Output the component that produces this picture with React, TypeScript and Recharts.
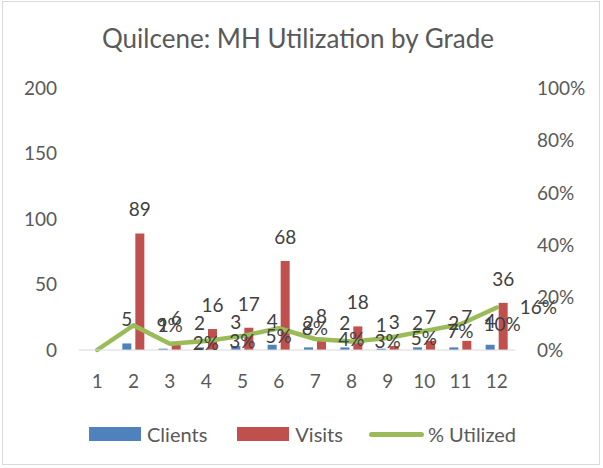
import { Bar, ComposedChart, LabelList, Legend, Line, XAxis, YAxis } from "recharts";

const grades = ["1", "2", "3", "4", "5", "6", "7", "8", "9", "10", "11", "12"];
const clients = [null, 5, 1, 2, 3, 4, 2, 2, 1, 2, 2, 4];
const visits = [null, 89, 6, 16, 17, 68, 8, 18, 3, 7, 7, 36];
const utilized = [0, 0.094, 0.024, 0.034, 0.054, 0.083, 0.042, 0.032, 0.046, 0.072, 0.098, 0.162];
const countTicks = [0, 50, 100, 150, 200];
const pctTicks = [0, 0.2, 0.4, 0.6, 0.8, 1];

const data = grades.map((g, i) => ({
  grade: g,
  clients: clients[i],
  visits: visits[i],
  utilized: utilized[i],
}));

const FONT = "Lato, 'Open Sans', sans-serif";
const AXIS_TEXT = "#595959";
const LABEL_TEXT = "#404040";
const BLUE = "#4F81BD";
const RED = "#C0504D";
const GREEN = "#9BBB59";

const tickStyle = { fontSize: 19, fill: AXIS_TEXT, fontFamily: FONT };
const labelStyle = { fontSize: 19, fill: LABEL_TEXT, fontFamily: FONT };

const pct = (v: number) => `${Math.round(v * 100)}%`;

function LegendContent() {
  const text = { fontSize: 20, color: AXIS_TEXT, fontFamily: FONT };
  return (
    <div style={{ display: "flex", alignItems: "center", paddingLeft: 89 }}>
      <span style={{ width: 52, height: 14, background: BLUE, marginRight: 6 }} />
      <span style={{ ...text, marginRight: 30 }}>Clients</span>
      <span style={{ width: 52, height: 14, background: RED, marginRight: 6 }} />
      <span style={{ ...text, marginRight: 26 }}>Visits</span>
      <span style={{ width: 55, height: 5, borderRadius: 3, background: GREEN, marginRight: 4 }} />
      <span style={text}>% Utilized</span>
    </div>
  );
}

export default function App() {
  return (
    <div style={{ position: "absolute", left: 0, top: 0, width: 603, height: 468, background: "#fff" }}>
      <div
        style={{
          position: "absolute",
          left: 2,
          top: 1,
          width: 598,
          height: 464,
          border: "1px solid #d9d9d9",
          boxSizing: "border-box",
        }}
      />
      <div
        style={{
          position: "absolute",
          left: 0,
          top: 22,
          width: 596,
          textAlign: "center",
          fontFamily: FONT,
          fontSize: 26,
          color: AXIS_TEXT,
        }}
      >
        Quilcene: MH Utilization by Grade
      </div>
      <ComposedChart
        width={603}
        height={468}
        data={data}
        margin={{ top: 88, right: 0, bottom: 78, left: 0 }}
        style={{ position: "absolute", left: 0, top: 0 }}
      >
        <XAxis
          dataKey="grade"
          height={40}
          tickLine={false}
          tickSize={0}
          tickMargin={25}
          axisLine={{ stroke: "#d9d9d9", strokeWidth: 1 }}
          tick={tickStyle}
          interval={0}
        />
        <YAxis
          yAxisId="left"
          width={79}
          domain={[0, 200]}
          ticks={countTicks}
          axisLine={false}
          tickLine={false}
          tickSize={0}
          tickMargin={22}
          tick={tickStyle}
        />
        <YAxis
          yAxisId="right"
          orientation="right"
          width={88}
          domain={[0, 1]}
          ticks={pctTicks}
          tickFormatter={pct}
          axisLine={false}
          tickLine={false}
          tickSize={0}
          tickMargin={22}
          tick={tickStyle}
        />
        <Legend
          layout="horizontal"
          verticalAlign="middle"
          align="center"
          content={LegendContent}
          wrapperStyle={{ top: 422, left: 0, width: 603 }}
        />
        <Bar yAxisId="left" dataKey="clients" name="Clients" fill={BLUE} barSize={9} isAnimationActive={false}>
          <LabelList dataKey="clients" position="top" offset={17} style={labelStyle} formatter={(v: any) => (v == null ? "" : v)} />
        </Bar>
        <Bar yAxisId="left" dataKey="visits" name="Visits" fill={RED} barSize={9} isAnimationActive={false}>
          <LabelList dataKey="visits" position="top" offset={17} style={labelStyle} formatter={(v: any) => (v == null ? "" : v)} />
        </Bar>
        <Line
          yAxisId="right"
          dataKey="utilized"
          name="% Utilized"
          type="linear"
          stroke={GREEN}
          strokeWidth={4.5}
          strokeLinecap="round"
          strokeLinejoin="round"
          dot={false}
          activeDot={false}
          isAnimationActive={false}
        >
          <LabelList
            dataKey="utilized"
            position="right"
            offset={23}
            style={labelStyle}
            formatter={(v: any) => (v > 0 ? pct(v) : "")}
          />
        </Line>
      </ComposedChart>
    </div>
  );
}
